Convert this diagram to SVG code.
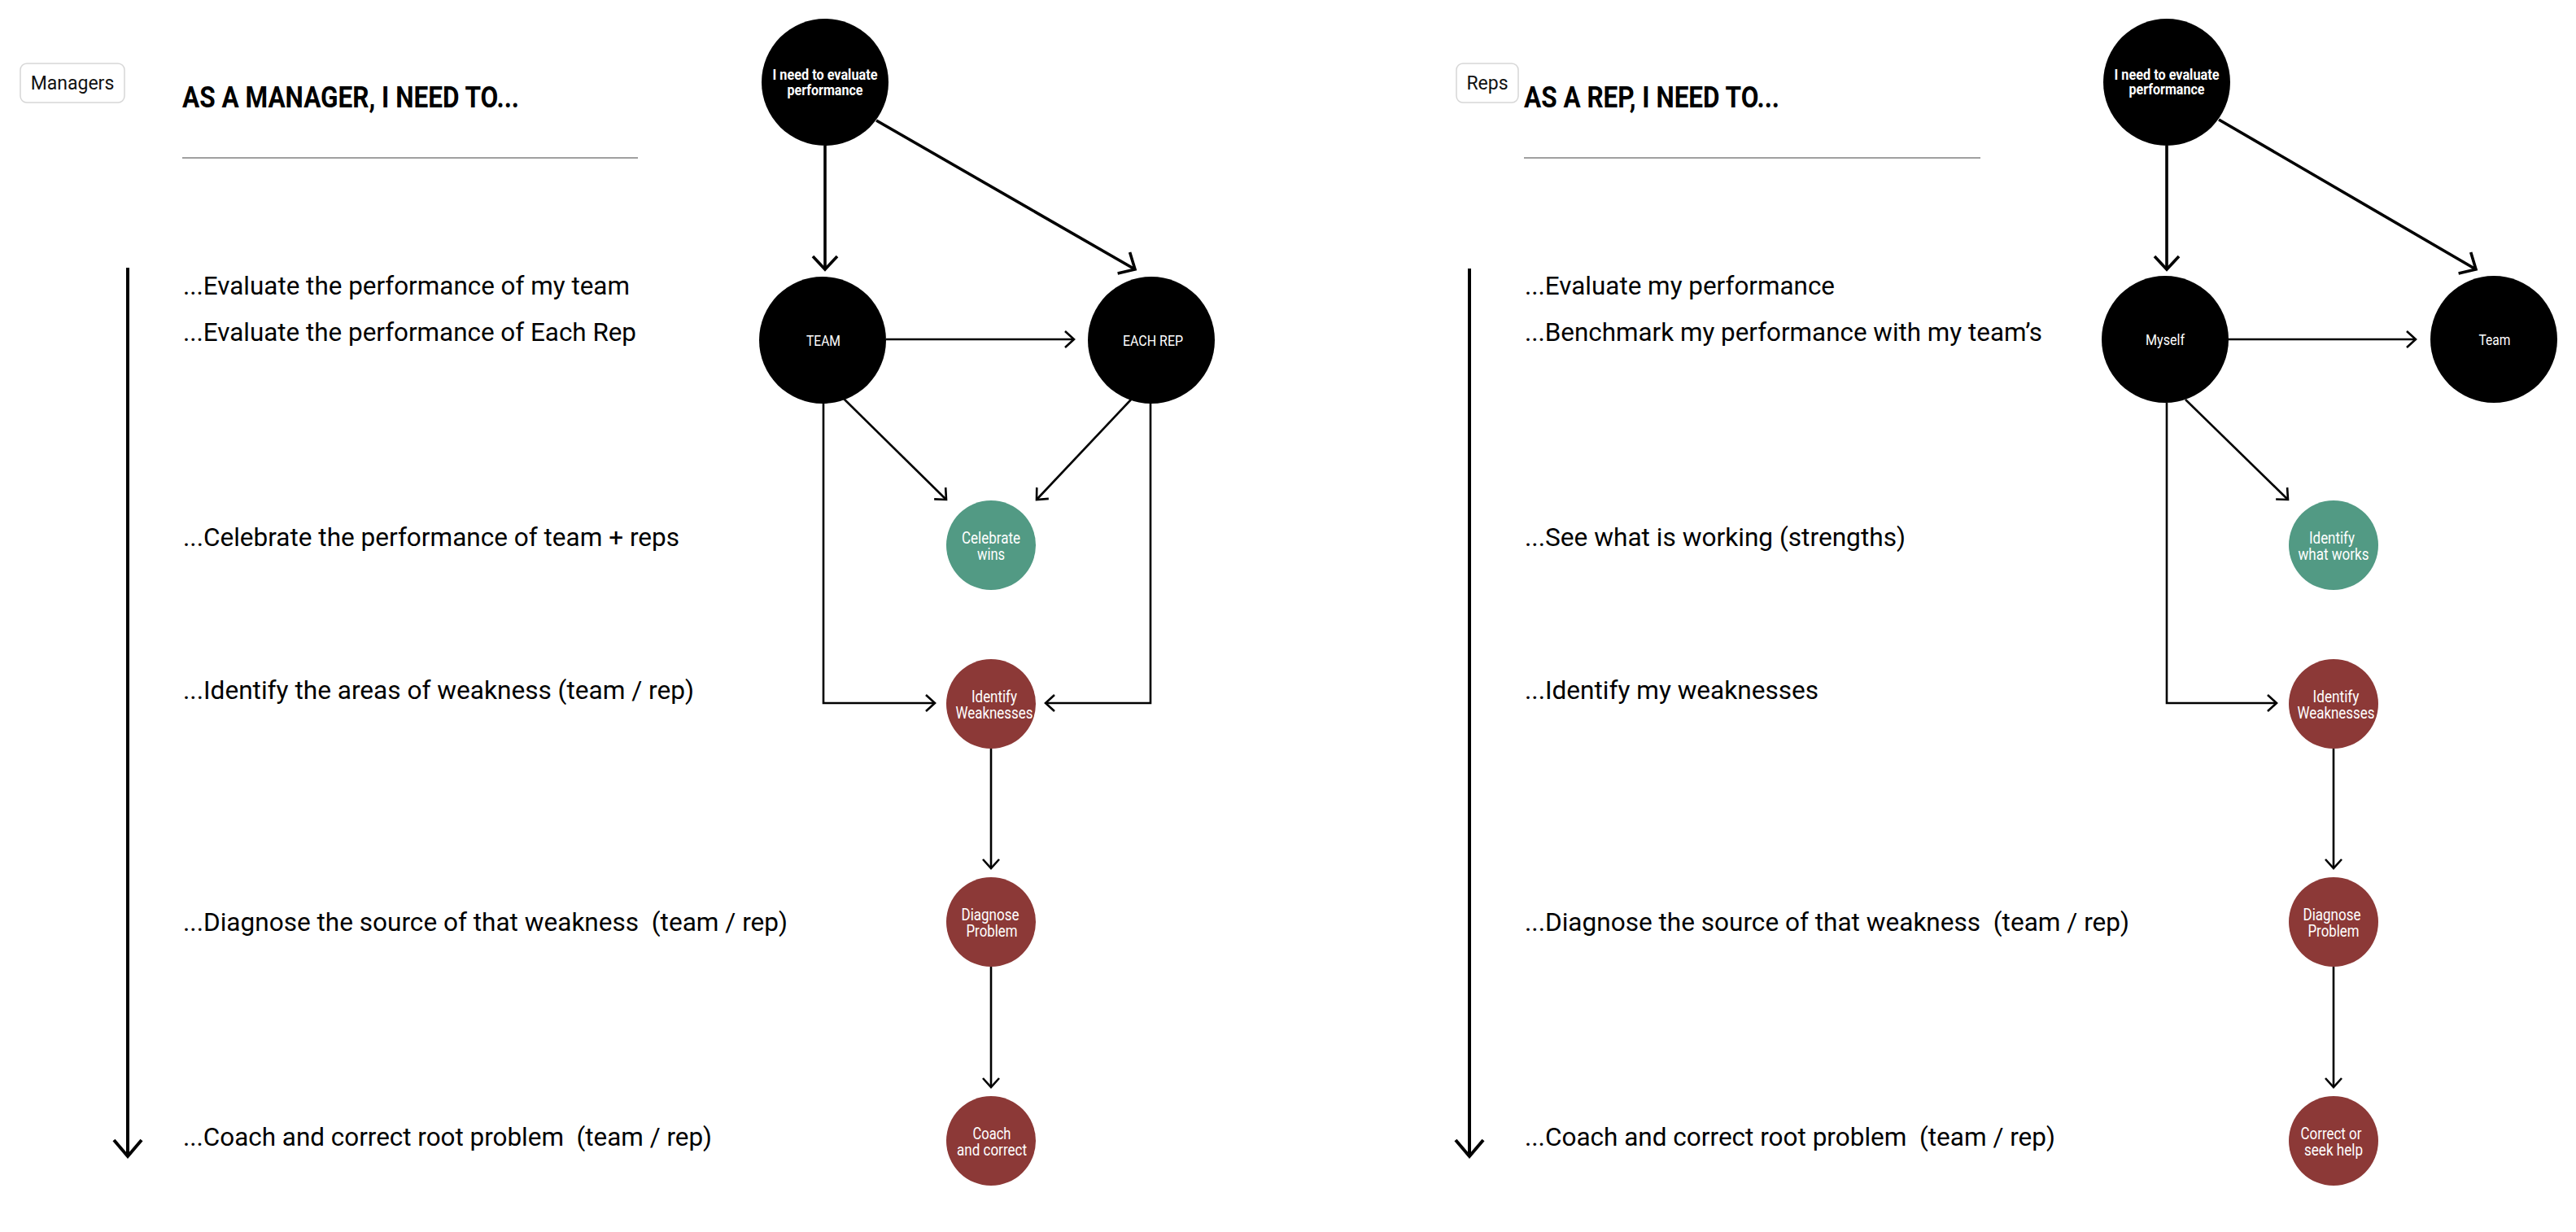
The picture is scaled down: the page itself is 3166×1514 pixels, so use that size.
<svg xmlns="http://www.w3.org/2000/svg" width="3166" height="1514" viewBox="0 0 3166 1514">
<defs>
<style>
text { font-family: Roboto, "Liberation Sans", sans-serif; }
.row { font-size: 31px; fill: #000; white-space: pre; }
.title { font-size: 37px; font-weight: 700; fill: #000; }
.tag { font-size: 23px; fill: #111; text-anchor: middle; }
.tagbox { fill: #fff; stroke: #d6d6d6; stroke-width: 1.5; }
.rule { stroke: #a0a0a0; stroke-width: 2; }
.lbl { font-size: 21px; fill: #fff; text-anchor: middle; }
.blbl { font-size: 19px; font-weight: 700; fill: #fff; text-anchor: middle; }
.black { fill: #000; }
.green { fill: #529a84; }
.red { fill: #8c3937; }
.thick { fill: none; stroke: #000; stroke-width: 3.6; marker-end: url(#bigArrow); }
.thin { fill: none; stroke: #000; stroke-width: 2.6; marker-end: url(#smallArrow); }
.time { fill: none; stroke: #000; stroke-width: 4; marker-end: url(#timeArrow); }
</style>
<marker id="bigArrow" markerUnits="userSpaceOnUse" viewBox="-22 -20 26 40" markerWidth="26" markerHeight="40" refX="0" refY="0" orient="auto" overflow="visible">
<path d="M-16,-15 L0,0 L-16,15" fill="none" stroke="#000" stroke-width="3.6"/>
</marker>
<marker id="smallArrow" markerUnits="userSpaceOnUse" viewBox="-16 -14 20 28" markerWidth="20" markerHeight="28" refX="0" refY="0" orient="auto" overflow="visible">
<path d="M-11,-10 L0,0 L-11,10" fill="none" stroke="#000" stroke-width="2.6"/>
</marker>
<marker id="timeArrow" markerUnits="userSpaceOnUse" viewBox="-26 -22 30 44" markerWidth="30" markerHeight="44" refX="0" refY="0" orient="auto" overflow="visible">
<path d="M-20,-17 L0,0 L-20,17" fill="none" stroke="#000" stroke-width="4"/>
</marker>
</defs>
<rect width="3166" height="1514" fill="#fff"/>

<!-- Left panel header -->
<g id="tag-managers">
<rect class="tagbox" x="25" y="78" width="128" height="48" rx="8"/>
<text class="tag" x="89" y="110">Managers</text>
</g>
<text class="title" x="224" y="132" textLength="414" lengthAdjust="spacingAndGlyphs">AS A MANAGER, I NEED TO...</text>
<line class="rule" x1="224" y1="194" x2="784" y2="194"/>

<g id="rows-left">
<text class="row" x="225" y="362" textLength="549" lengthAdjust="spacingAndGlyphs">...Evaluate the performance of my team</text>
<text class="row" x="225" y="419" textLength="557" lengthAdjust="spacingAndGlyphs">...Evaluate the performance of Each Rep</text>
<text class="row" x="225" y="671" textLength="610" lengthAdjust="spacingAndGlyphs">...Celebrate the performance of team + reps</text>
<text class="row" x="225" y="859" textLength="628" lengthAdjust="spacingAndGlyphs">...Identify the areas of weakness (team / rep)</text>
<text class="row" x="225" y="1144" textLength="743" lengthAdjust="spacingAndGlyphs">...Diagnose the source of that weakness  (team / rep)</text>
<text class="row" x="225" y="1408" textLength="650" lengthAdjust="spacingAndGlyphs">...Coach and correct root problem  (team / rep)</text>
</g>

<!-- Right panel header -->
<g id="tag-reps">
<rect class="tagbox" x="1790" y="78" width="76" height="48" rx="8"/>
<text class="tag" x="1828" y="110">Reps</text>
</g>
<text class="title" x="1873" y="132" textLength="314" lengthAdjust="spacingAndGlyphs">AS A REP, I NEED TO...</text>
<line class="rule" x1="1873" y1="194" x2="2434" y2="194"/>

<g id="rows-right">
<text class="row" x="1874" y="362" textLength="381" lengthAdjust="spacingAndGlyphs">...Evaluate my performance</text>
<text class="row" x="1874" y="419" textLength="636" lengthAdjust="spacingAndGlyphs">...Benchmark my performance with my team’s</text>
<text class="row" x="1874" y="671" textLength="468" lengthAdjust="spacingAndGlyphs">...See what is working (strengths)</text>
<text class="row" x="1874" y="859" textLength="361" lengthAdjust="spacingAndGlyphs">...Identify my weaknesses</text>
<text class="row" x="1874" y="1144" textLength="743" lengthAdjust="spacingAndGlyphs">...Diagnose the source of that weakness  (team / rep)</text>
<text class="row" x="1874" y="1408" textLength="652" lengthAdjust="spacingAndGlyphs">...Coach and correct root problem  (team / rep)</text>
</g>

<!-- Connectors -->
<g id="connectors">
<path class="time" d="M157,329 V1421"/>
<path class="time" d="M1806,330 V1421"/>

<path class="thick" d="M1014,179 V331"/>
<path class="thick" d="M1077,148 L1395,331"/>
<path class="thin" d="M1089,417 H1320"/>
<path class="thin" d="M1037,490 L1163,614"/>
<path class="thin" d="M1391,490 L1274,614"/>
<path class="thin" d="M1012,495 V864 H1149"/>
<path class="thin" d="M1414,495 V864 H1285"/>
<path class="thin" d="M1218,920 V1067"/>
<path class="thin" d="M1218,1188 V1336"/>

<path class="thick" d="M2663,179 V331"/>
<path class="thick" d="M2727,147 L3043,331"/>
<path class="thin" d="M2737,417 H2969"/>
<path class="thin" d="M2686,491 L2812,614"/>
<path class="thin" d="M2663,495 V864 H2798"/>
<path class="thin" d="M2868,920 V1067"/>
<path class="thin" d="M2868,1188 V1336"/>
</g>

<!-- Left nodes -->
<g id="node-m-evaluate">
<circle class="black" cx="1014" cy="101" r="78"/>
<text class="blbl" x="1014" y="98" textLength="129" lengthAdjust="spacingAndGlyphs">I need to evaluate</text>
<text class="blbl" x="1014" y="117" textLength="93" lengthAdjust="spacingAndGlyphs">performance</text>
</g>
<g id="node-m-team">
<circle class="black" cx="1011" cy="418" r="78"/>
<text class="lbl" x="1012" y="425" textLength="42" lengthAdjust="spacingAndGlyphs" style="font-size:19px">TEAM</text>
</g>
<g id="node-m-eachrep">
<circle class="black" cx="1415" cy="418" r="78"/>
<text class="lbl" x="1417" y="425" textLength="74" lengthAdjust="spacingAndGlyphs" style="font-size:19px">EACH REP</text>
</g>
<g id="node-m-celebrate">
<circle class="green" cx="1218" cy="670" r="55"/>
<text class="lbl" x="1218" y="668" textLength="72" lengthAdjust="spacingAndGlyphs">Celebrate</text>
<text class="lbl" x="1218" y="688" textLength="34" lengthAdjust="spacingAndGlyphs">wins</text>
</g>
<g id="node-m-identify">
<circle class="red" cx="1218" cy="865" r="55"/>
<text class="lbl" x="1222" y="863" textLength="56" lengthAdjust="spacingAndGlyphs">Identify</text>
<text class="lbl" x="1222" y="883" textLength="95" lengthAdjust="spacingAndGlyphs">Weaknesses</text>
</g>
<g id="node-m-diagnose">
<circle class="red" cx="1218" cy="1133" r="55"/>
<text class="lbl" x="1217" y="1131" textLength="71" lengthAdjust="spacingAndGlyphs">Diagnose</text>
<text class="lbl" x="1219" y="1151" textLength="63" lengthAdjust="spacingAndGlyphs">Problem</text>
</g>
<g id="node-m-coach">
<circle class="red" cx="1218" cy="1402" r="55"/>
<text class="lbl" x="1219" y="1400" textLength="47" lengthAdjust="spacingAndGlyphs">Coach</text>
<text class="lbl" x="1219" y="1420" textLength="86" lengthAdjust="spacingAndGlyphs">and correct</text>
</g>

<!-- Right nodes -->
<g id="node-r-evaluate">
<circle class="black" cx="2663" cy="101" r="78"/>
<text class="blbl" x="2663" y="98" textLength="129" lengthAdjust="spacingAndGlyphs">I need to evaluate</text>
<text class="blbl" x="2663" y="116" textLength="93" lengthAdjust="spacingAndGlyphs">performance</text>
</g>
<g id="node-r-myself">
<circle class="black" cx="2661" cy="417" r="78"/>
<text class="lbl" x="2661" y="424" textLength="48" lengthAdjust="spacingAndGlyphs" style="font-size:19px">Myself</text>
</g>
<g id="node-r-team">
<circle class="black" cx="3065" cy="417" r="78"/>
<text class="lbl" x="3066" y="424" textLength="39" lengthAdjust="spacingAndGlyphs" style="font-size:19px">Team</text>
</g>
<g id="node-r-whatworks">
<circle class="green" cx="2868" cy="670" r="55"/>
<text class="lbl" x="2866" y="668" textLength="56" lengthAdjust="spacingAndGlyphs">Identify</text>
<text class="lbl" x="2868" y="688" textLength="87" lengthAdjust="spacingAndGlyphs">what works</text>
</g>
<g id="node-r-identify">
<circle class="red" cx="2868" cy="865" r="55"/>
<text class="lbl" x="2871" y="863" textLength="57" lengthAdjust="spacingAndGlyphs">Identify</text>
<text class="lbl" x="2871" y="883" textLength="95" lengthAdjust="spacingAndGlyphs">Weaknesses</text>
</g>
<g id="node-r-diagnose">
<circle class="red" cx="2868" cy="1133" r="55"/>
<text class="lbl" x="2866" y="1131" textLength="71" lengthAdjust="spacingAndGlyphs">Diagnose</text>
<text class="lbl" x="2868" y="1151" textLength="63" lengthAdjust="spacingAndGlyphs">Problem</text>
</g>
<g id="node-r-correct">
<circle class="red" cx="2868" cy="1402" r="55"/>
<text class="lbl" x="2865" y="1400" textLength="75" lengthAdjust="spacingAndGlyphs">Correct or</text>
<text class="lbl" x="2868" y="1420" textLength="72" lengthAdjust="spacingAndGlyphs">seek help</text>
</g>
</svg>
